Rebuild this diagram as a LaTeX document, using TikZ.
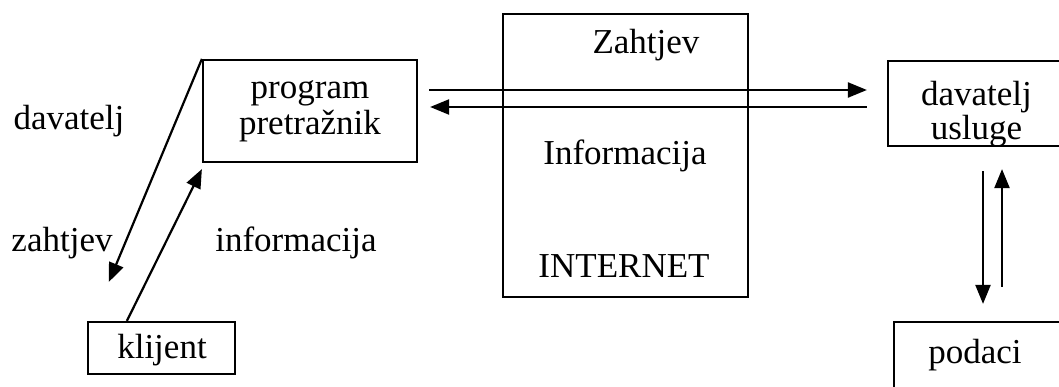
\documentclass[tikz,border=0pt]{standalone}
\usepackage{fontspec}
\setmainfont{Liberation Serif}
\usetikzlibrary{arrows.meta,calc}
\begin{document}
\begin{tikzpicture}[x=1pt,y=-1pt,
 box/.style={draw, line width=2.2pt, inner sep=0pt},
 lbl/.style={font=\fontsize{35}{36}\selectfont, inner sep=0pt, align=center},
 arr/.style={line width=2.2pt, -{Triangle[length=19pt,width=15pt]}}]
\useasboundingbox (0,0) rectangle (1059,387);
\clip (0,0) rectangle (1059,387);
% boxes
\node[box, lbl, minimum width=214pt, minimum height=102pt] (prog) at (310,111) {program\\pretražnik};
\node[box, minimum width=245pt, minimum height=283pt] (inet) at (625.5,155.5) {};
\node[box, minimum width=177pt, minimum height=85pt] (dav) at (976.5,103.5) {};
\node[box, minimum width=171pt, minimum height=78pt] (pod) at (979.5,361) {};
\node[box, minimum width=147pt, minimum height=52pt] (kl) at (161.5,348) {};
% texts
\node[lbl] (zt) at (646,45) {Zahtjev};
\node[lbl] (inf) at (625,156) {Informacija};
\node[lbl] (net) at (624,266) {INTERNET};
\node[lbl] (davl) at (69,121) {davatelj};
\node[lbl] (zahl) at (62,243) {zahtjev};
\node[lbl] (infl) at (296,243) {informacija};
\node[lbl] (davt) at (976.5,97) {davatelj};
\node[lbl] (uslt) at (976.5,131) {usluge};
\node[lbl] (podt) at (975,355) {podaci};
\node[lbl] (klt) at (162,350) {klijent};
% arrows
\draw[arr] ($(prog.east)+(11,-21)$) -- ($(dav.west)+(-20,-13.5)$);
\draw[arr] ($(dav.west)+(-20,3.5)$) -- ($(prog.east)+(12,-4)$);
\draw[arr] ($(dav.south)+(6.5,24)$) -- ($(pod.north)+(3.5,-17)$);
\draw[arr] ($(pod.north)+(22.5,-34)$) -- ($(dav.south)+(25.5,22)$);
\draw[arr] (prog.north west) -- ($(kl.north west)+(22,-39)$);
\draw[arr] ($(kl.north west)+(40,0)$) -- ($(prog.south west)+(0,6)$);
\end{tikzpicture}
\end{document}
